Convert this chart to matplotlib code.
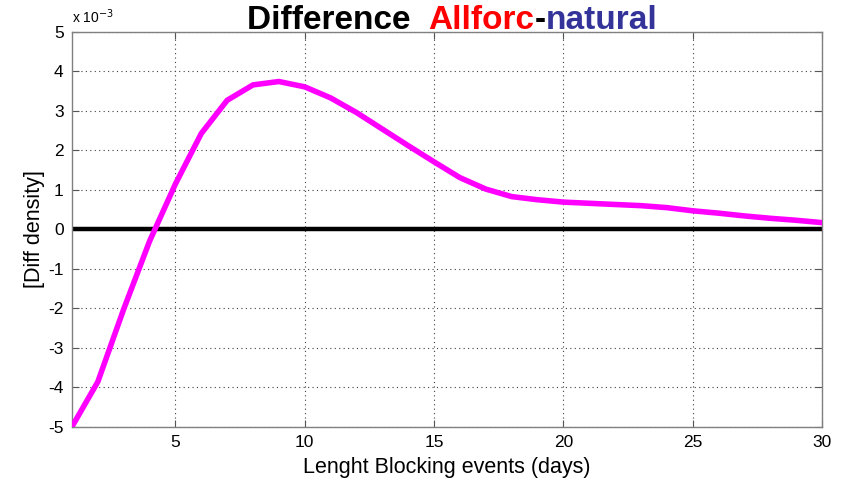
import matplotlib
matplotlib.use('Agg')
import matplotlib.pyplot as plt
from matplotlib.ticker import FuncFormatter

# blocking event length (days) and difference in density (x 1e-3)
days = list(range(1, 31))
diff_e3 = [-5.0, -3.86, -2.02, -0.3, 1.15, 2.43, 3.27, 3.66, 3.745, 3.61,
           3.33, 2.96, 2.54, 2.12, 1.71, 1.31, 1.02, 0.83, 0.75, 0.69,
           0.66, 0.63, 0.60, 0.55, 0.47, 0.41, 0.34, 0.28, 0.23, 0.17]
diff = [v * 1e-3 for v in diff_e3]

xticks = [5, 10, 15, 20, 25, 30]
yticks = [v * 1e-3 for v in range(-5, 6)]

plt.rcParams['font.family'] = ['Liberation Sans', 'DejaVu Sans']

fig = plt.figure(figsize=(8.46, 4.84), dpi=100)
ax = fig.add_axes([0.0851, 0.1184, 0.8865, 0.8155])

ax.axhline(0, color='black', lw=3.2, zorder=2)
ax.plot(days, diff, color='#ff00ff', lw=4.0, zorder=3)

ax.set_xlim(1, 30)
ax.set_ylim(-5e-3, 5e-3)
ax.set_xticks(xticks)
ax.set_yticks(yticks)
ax.yaxis.set_major_formatter(FuncFormatter(lambda v, p: '%g' % round(v * 1e3)))
ax.grid(True, color='#404040', linestyle=(0, (1, 3)), lw=0.8)
ax.tick_params(direction='in', length=5, width=0.8, colors='#555555',
               labelcolor='black', labelsize=12.5, pad=6, top=True, right=True)
for s in ax.spines.values():
    s.set_color('#808080')
    s.set_linewidth(1.0)

ax.set_xlabel('Lenght Blocking events (days)', fontsize=15.5, labelpad=5)
ax.set_ylabel('[Diff density]', fontsize=15.5, labelpad=2)
ax.text(0.0, 1.015, r'x 10$^{-3}$', transform=ax.transAxes, fontsize=10,
        ha='left', va='bottom')

# multi-coloured title, pieces placed one after another
pieces = [('Difference  ', 'black'), ('Allforc', '#ff0000'), ('-', 'black'),
          ('natural', '#333399')]
fig.canvas.draw()
r = fig.canvas.get_renderer()
texts = []
for s, c in pieces:
    texts.append(fig.text(0, 1 - 29 / 484, s, color=c, fontsize=24,
                          fontweight='bold', ha='left', va='baseline'))
widths = [t.get_window_extent(r).width for t in texts]
total = sum(widths)
xpix = 452 - total / 2
for t, w in zip(texts, widths):
    t.set_x(xpix / fig.bbox.width)
    xpix += w

fig.savefig('out.png', dpi=100)
